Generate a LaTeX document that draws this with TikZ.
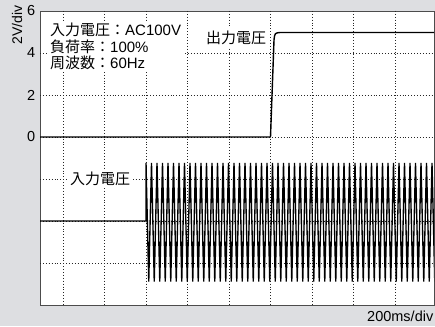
\documentclass[tikz,border=0pt]{standalone}
\usepackage{fontspec}
\setmainfont{Liberation Sans}
\newfontfamily\jp{Noto Sans CJK JP}
\definecolor{panel}{RGB}{221,222,225}

\begin{document}
\begin{tikzpicture}[
  x=1pt, y=-1pt,
  frame/.style={draw=black!70, fill=white, line width=0.9pt},
  gridline/.style={dotted, line width=0.9pt, black!85},
  trace/.style={line width=1.4pt, line join=round},
  acwave/.style={line width=1.35pt, line join=miter},
  lbl/.style={fill=white, inner sep=3pt, font=\fontsize{15}{16.5}\selectfont},
  tick/.style={anchor=east, inner sep=0pt, font=\fontsize{14.5}{16}\selectfont}
]
\path[use as bounding box, fill=panel] (0,0) rectangle (435,326);

\draw[frame] (40,11) rectangle (434,305);

\foreach \gx in {0,...,8}
  \draw[gridline] ({63+41.5*\gx},11) -- ({63+41.5*\gx},305);
\foreach \gy in {1,...,6}
  \draw[gridline] (40,{11+42*\gy}) -- (434,{11+42*\gy});

\draw[trace] (40,137) -- (270.5,137) -- (274,40)
  .. controls (274.8,33) .. (280,32.5) -- (434,32.5);

\begin{scope}
  \clip (40,11) rectangle (434,305);
  \draw[acwave] (40,221) -- (146,221) -- (146,163)
    \foreach \k in {1,...,54} { -- ++(2.75,118.5) -- ++(2.75,-118.5) };
\end{scope}

\node[lbl, anchor=north west, align=left, inner sep=2pt] (cond) at (48,21)
  {{\jp 入力電圧：}AC100V\\{\jp 負荷率：}100\%\\{\jp 周波数：}60Hz};

\node[lbl] (outv) at (236,37.5) {\jp 出力電圧};
\node[lbl] (inv) at (100,178.5) {\jp 入力電圧};

\foreach \v/\yy in {6/11,4/53,2/95,0/137}
  \node[tick] (t\v) at (35.5,\yy) {\v};

\node[rotate=90, inner sep=0pt, font=\fontsize{14}{16}\selectfont] (vdiv) at (17,25) {2V/div};
\node[anchor=east, inner sep=0pt, font=\fontsize{14.5}{16}\selectfont] (tdiv) at (433.5,316) {200ms/div};

\end{tikzpicture}
\end{document}
